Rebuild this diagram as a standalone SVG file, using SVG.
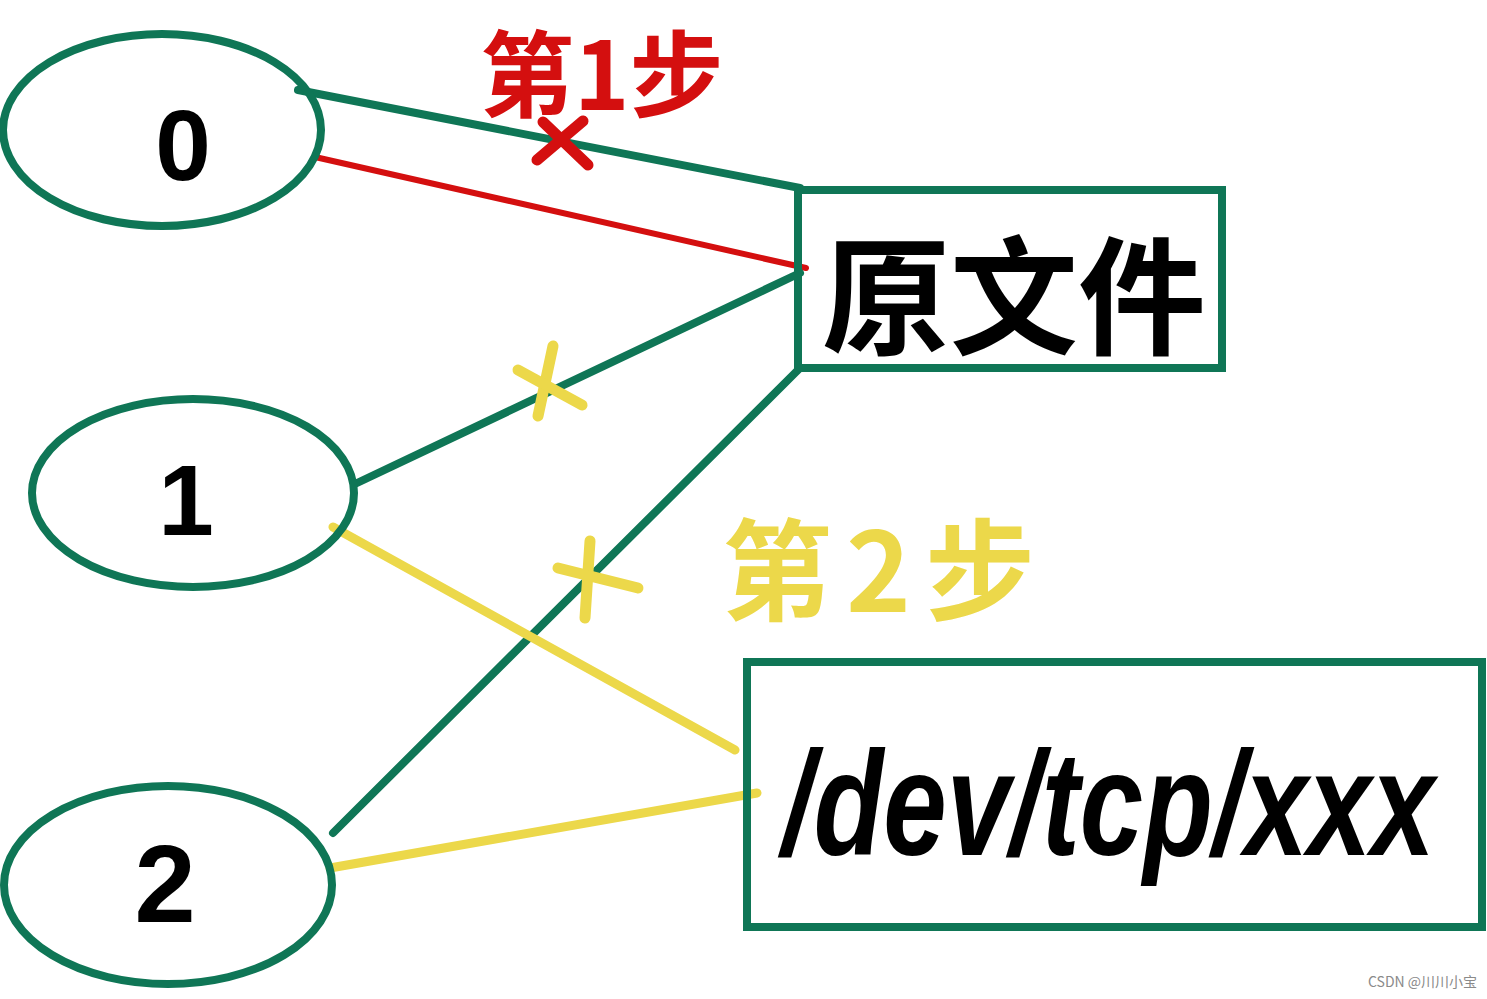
<svg xmlns="http://www.w3.org/2000/svg" width="1487" height="999" viewBox="0 0 1487 999">
<style>
.node{fill:none;stroke:#0f7656;stroke-width:8}
.g{stroke:#0f7656;stroke-width:8;stroke-linecap:round;fill:none}
.r{stroke:#d40f0f;stroke-width:6;stroke-linecap:round;fill:none}
.y{stroke:#ecd84a;stroke-width:9;stroke-linecap:round;fill:none}
.mk{stroke-width:11;stroke-linecap:round;fill:none}
.t{font-family:"Liberation Sans","Noto Sans CJK SC",sans-serif;font-weight:bold;fill:#000}
.cjk{font-family:"Noto Sans CJK SC",sans-serif;font-weight:bold}
</style>
<rect width="1487" height="999" fill="#fff"/>
<g id="connectors">
<line class="g" x1="298" y1="90" x2="800" y2="188"/>
<line class="r" x1="315" y1="157" x2="806" y2="268"/>
<line class="g" x1="357" y1="483" x2="800" y2="273"/>
<line class="g" x1="333" y1="833" x2="800" y2="368"/>
<line class="y" x1="333" y1="527" x2="735" y2="750"/>
<line class="y" x1="330" y1="868" x2="757" y2="793"/>
</g>
<g id="marks">
<line class="mk" stroke="#d40f0f" x1="543" y1="122" x2="588" y2="165"/>
<line class="mk" stroke="#d40f0f" x1="583" y1="121" x2="537" y2="160"/>
<line class="mk" stroke="#ecd84a" x1="553" y1="346" x2="538" y2="416"/>
<line class="mk" stroke="#ecd84a" x1="518" y1="370" x2="582" y2="405"/>
<line class="mk" stroke="#ecd84a" x1="590" y1="541" x2="585" y2="618"/>
<line class="mk" stroke="#ecd84a" x1="558" y1="568" x2="638" y2="588"/>
</g>
<g id="node-0">
<ellipse class="node" cx="162" cy="130" rx="159" ry="96"/>
<text class="t" x="183" y="180" font-size="100" text-anchor="middle">0</text>
</g>
<g id="node-1">
<ellipse class="node" cx="193" cy="493" rx="161" ry="94"/>
<text class="t" x="186" y="535" font-size="100" text-anchor="middle" font-weight="normal">1</text>
</g>
<g id="node-2">
<ellipse class="node" cx="168" cy="885" rx="164" ry="99"/>
<text class="t" x="165" y="922" font-size="110" text-anchor="middle">2</text>
</g>
<g id="node-file">
<rect class="node" x="798" y="190" width="424" height="178"/>
<text class="t cjk" x="822" y="345" font-size="128">原文件</text>
</g>
<g id="node-tcp">
<rect class="node" x="747" y="662" width="735" height="265"/>
<text class="t" transform="translate(782,855) scale(1,1.3)" font-size="114" font-style="italic" font-weight="normal">/dev/tcp/xxx</text>
</g>
<g id="labels">
<text class="cjk" x="480" y="110" font-size="94" fill="#d40f0f">第1步</text>
<text class="cjk" x="722" y="612" font-size="110" fill="#ecd84a" letter-spacing="14">第2步</text>
<text x="1368" y="987" font-size="14" fill="#8a8a8a" font-family="'Noto Sans CJK SC',sans-serif">CSDN @川川小宝</text>
</g>
</svg>
